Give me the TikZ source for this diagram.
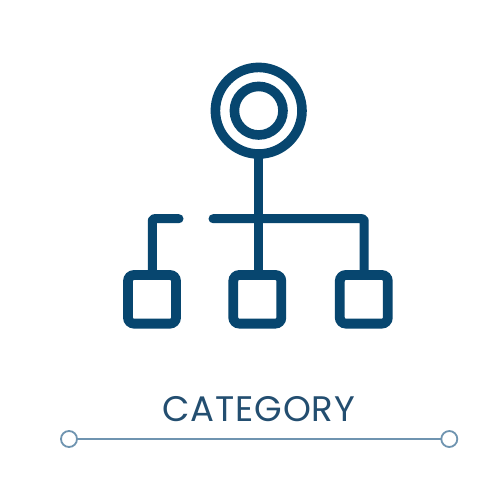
\documentclass[tikz,border=0pt]{standalone}
\usepackage{fontspec}
\setmainfont{Poppins}
\definecolor{icon}{HTML}{07466F}
\definecolor{label}{HTML}{234E70}
\definecolor{rule}{HTML}{6F94B0}
\tikzset{
  x=1pt,y=-1pt,
  ring/.style={circle,draw=icon,line width=9.6pt,inner sep=0pt,outer sep=0pt},
  leaf/.style={rectangle,draw=icon,line width=9.8pt,rounded corners=6pt,minimum width=48pt,minimum height=48.6pt,inner sep=0pt,outer sep=0pt,fill=white},
  link/.style={draw=icon,line width=9pt},
  endcap/.style={circle,draw=rule,line width=1.8pt,minimum size=16pt,inner sep=0pt,outer sep=0pt,fill=white},
  railline/.style={draw=rule,line width=2.2pt}
}
\begin{document}
\begin{tikzpicture}
\useasboundingbox (0,0) rectangle (504,504);
\fill[white] (0,0) rectangle (504,504);
% top rings
\node[ring,minimum size=86.6pt] (outer) at (258.7,110.7) {};
\node[ring,minimum size=48.6pt] (inner) at (258.7,110.7) {};
% named junctions
\coordinate (hub) at (258.7,218.7);
\coordinate (barstart) at (213,218.7);
\coordinate (barend) at (364.2,218.7);
\coordinate (stubstart) at (179,218.7);
\coordinate (stubcorner) at (152.3,218.7);
% boxes and connectors
\node[leaf] (left) at (152,299.3) {};
\node[leaf] (mid) at (257.3,299.3) {};
\node[leaf] (right) at (363.8,299.3) {};
\draw[link] (outer.south) -- (hub);
\draw[link] (hub) -- (mid.north -| hub);
\draw[link,line cap=round,line join=round,rounded corners=2pt] (barstart) -- (barend) -- (barend |- right.north);
\draw[link,line cap=round,line join=round,rounded corners=2pt] (stubstart) -- (stubcorner) -- (stubcorner |- left.north);
% label and rule
\node[font=\fontsize{35.5}{38}\selectfont\addfontfeatures{LetterSpace=2.6},text=label,inner sep=0pt,anchor=base] (cat) at (258.6,421) {CATEGORY};
\node[endcap] (a) at (69,439) {};
\node[endcap] (b) at (449.3,439) {};
\draw[railline] (a) -- (b);
\end{tikzpicture}
\end{document}
